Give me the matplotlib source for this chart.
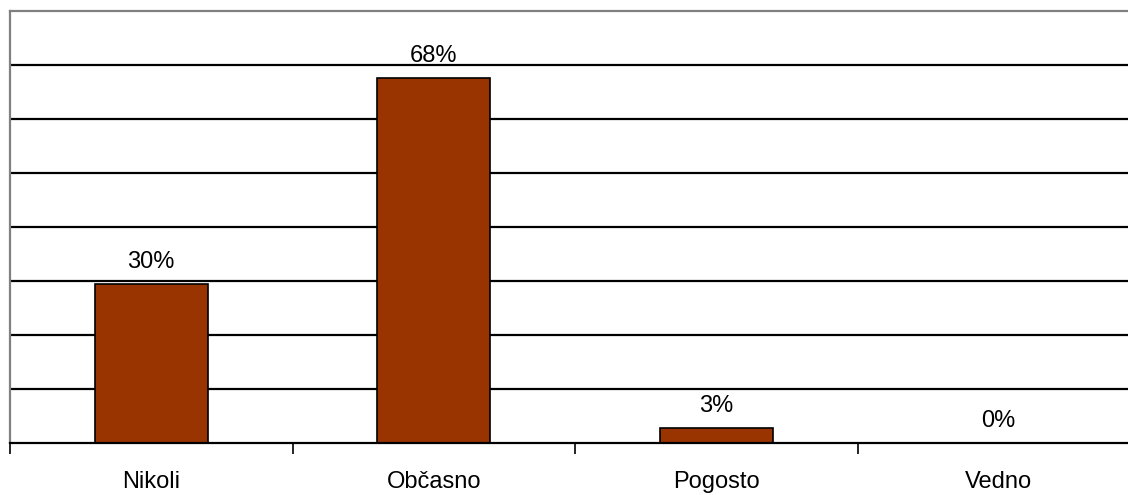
import matplotlib.pyplot as plt
import numpy as np

categories = ["Nikoli", "Občasno", "Pogosto", "Vedno"]
shares = [29.4, 67.6, 2.7, 0.0]
value_labels = ["30%", "68%", "3%", "0%"]

plt.rcParams["font.family"] = ["Liberation Sans", "DejaVu Sans"]

fig = plt.figure(figsize=(11.28, 4.95), dpi=100)
# plot area runs past the right edge of the canvas
ax = fig.add_axes([10 / 1128, 52 / 495, 1130 / 1128, 432 / 495])

x = np.arange(len(categories))
bars = ax.bar(x, shares, width=0.4, color="#993300", edgecolor="black",
              linewidth=1.2, zorder=3)

ax.set_xlim(-0.5, len(categories) - 0.5)
ax.set_ylim(0, 80)

# horizontal gridlines every 10 %
for y in range(10, 80, 10):
    ax.axhline(y, color="black", linewidth=1.6, zorder=1)

for spine in ["top", "left"]:
    ax.spines[spine].set_color("#808080")
    ax.spines[spine].set_linewidth(1.6)
ax.spines["right"].set_visible(False)
ax.spines["bottom"].set_color("black")
ax.spines["bottom"].set_linewidth(1.6)
ax.spines["bottom"].set_zorder(4)

ax.set_yticks([])
ax.set_xticks(x)
ax.set_xticklabels(categories, fontsize=17)
ax.tick_params(axis="x", which="major", length=0, pad=20)
ax.set_xticks(np.arange(-0.5, len(categories), 1), minor=True)
ax.tick_params(axis="x", which="minor", length=8, width=1.2, color="black",
               direction="out")

for rect, label in zip(bars, value_labels):
    ax.annotate(label, (rect.get_x() + rect.get_width() / 2, rect.get_height()),
                xytext=(0, 16), textcoords="offset pixels",
                ha="center", va="baseline", fontsize=17)

fig.savefig("out.png", dpi=100)
